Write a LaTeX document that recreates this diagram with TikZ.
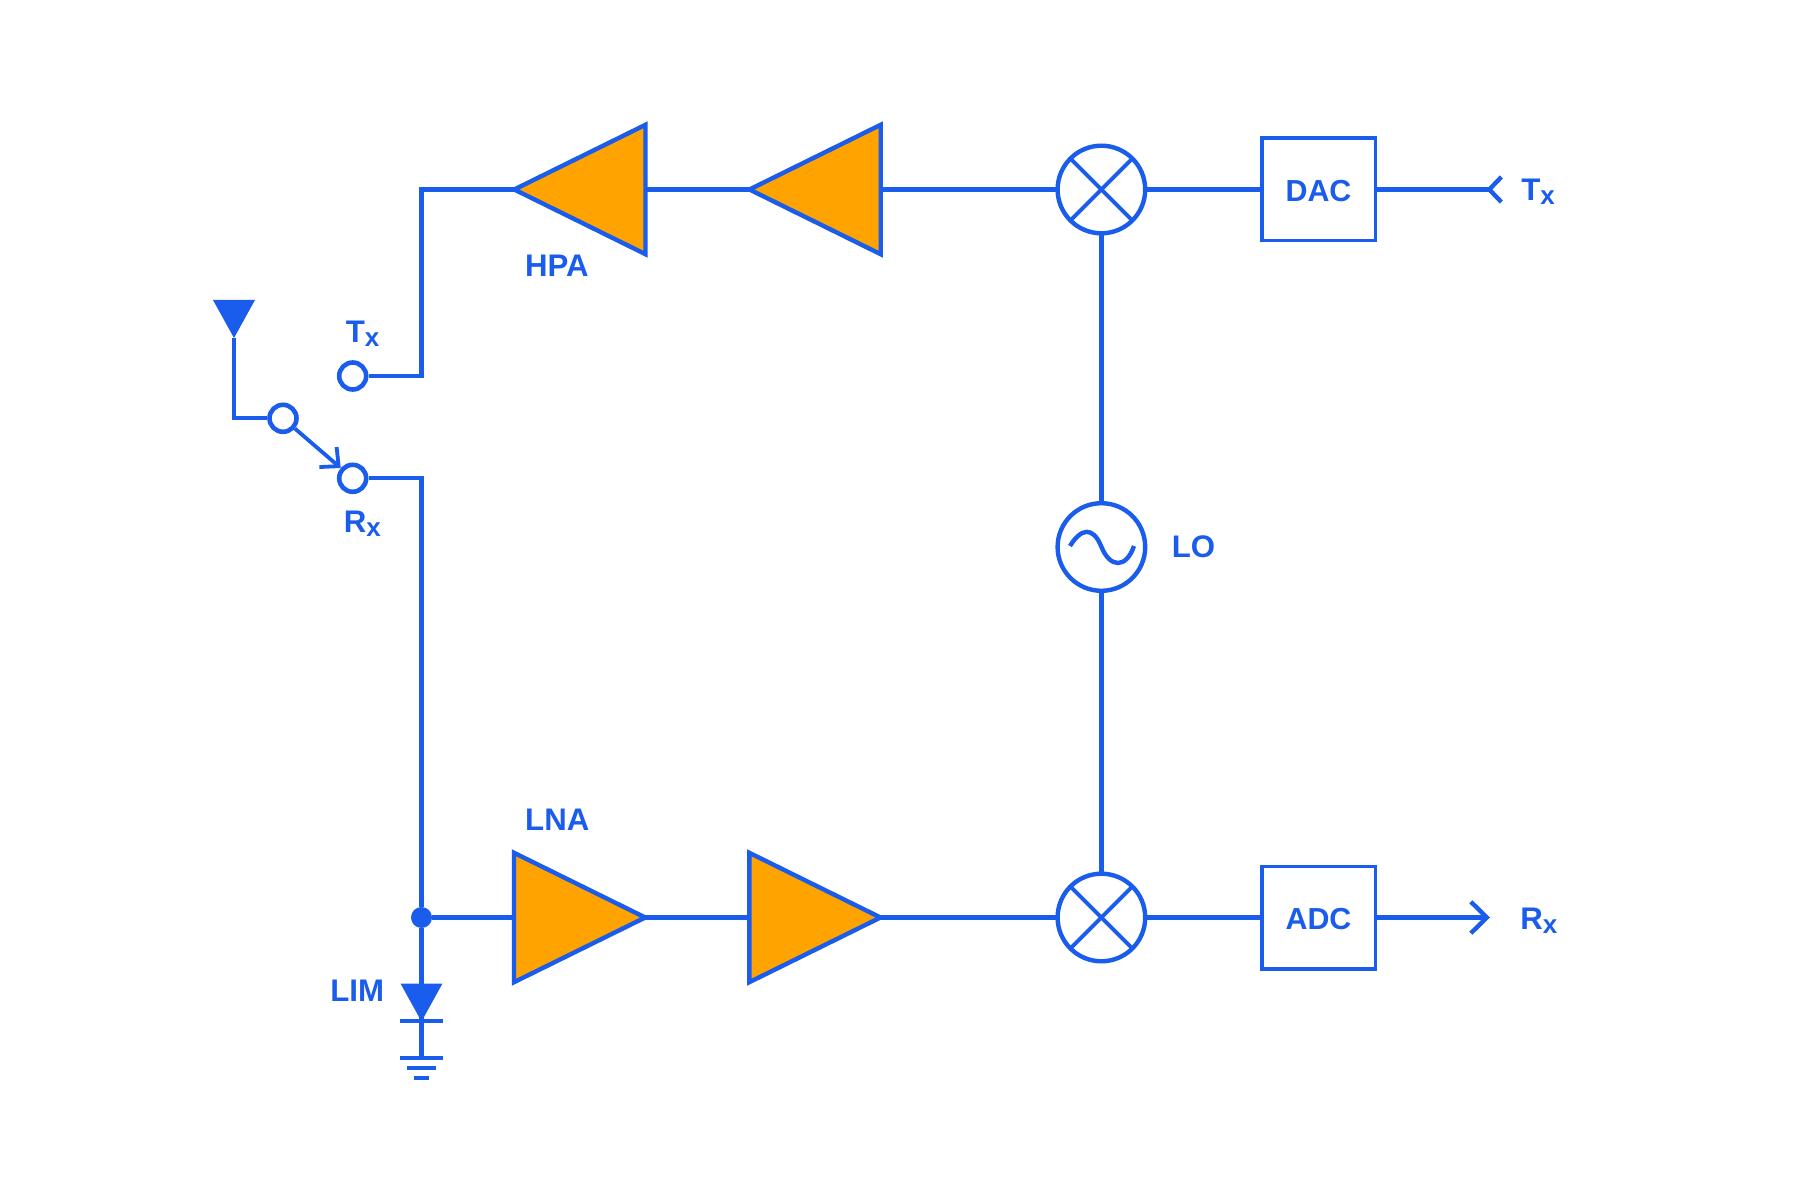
\documentclass[tikz,border=0pt]{standalone}
\usepackage{fontspec}
\setmainfont{Liberation Sans}
\usetikzlibrary{arrows.meta, shapes.geometric}

\definecolor{wireblue}{HTML}{1A5CEC}
\definecolor{ampfill}{HTML}{FFA300}
\newcommand{\subx}{\raisebox{-2pt}{\fontsize{13}{12}\selectfont x}}

\tikzset{
  wire/.style={draw=wireblue, line width=2.2pt},
  amp/.style={isosceles triangle, isosceles triangle stretches, draw=wireblue, fill=ampfill,
    line width=2.2pt, inner sep=0pt, outer sep=0pt, minimum width=64.7pt, minimum height=65.6pt, anchor=lower side},
  tip/.style={isosceles triangle, isosceles triangle stretches, fill=wireblue, shape border rotate=270,
    inner sep=0pt, outer sep=0pt, minimum width=21pt, minimum height=19pt},
  ring/.style={circle, draw=wireblue, line width=2.3pt, inner sep=0pt, minimum size=13.5pt},
  mixer/.style={circle, draw=wireblue, line width=2.2pt, inner sep=0pt, outer sep=0pt, minimum size=43.8pt,
    path picture={
      \draw[wireblue, line width=2pt] (path picture bounding box.north west) -- (path picture bounding box.south east);
      \draw[wireblue, line width=2pt] (path picture bounding box.south west) -- (path picture bounding box.north east);
    }},
  osc/.style={circle, draw=wireblue, line width=2.2pt, inner sep=0pt, outer sep=0pt, minimum size=43.8pt},
  conv/.style={rectangle, draw=wireblue, line width=1.7pt, inner sep=0pt, outer sep=0pt,
    minimum width=56.7pt, minimum height=51.3pt, text=wireblue, text height=11.8pt, text depth=0pt,
    font=\fontsize{15.2}{18}\selectfont\bfseries},
  lab/.style={anchor=base west, inner sep=0pt, text=wireblue, font=\fontsize{15.6}{18}\selectfont\bfseries}
}

\begin{document}
\begin{tikzpicture}[x=0.5pt, y=-0.5pt]
    \useasboundingbox (0,0) rectangle (1801,1203);

    % Antenna and switch
    \node[tip, anchor=apex] (ant) at (234,338) {};
    \node[ring] (sw) at (283,418.3) {};
    \node[ring] (txpin) at (352.7,376) {};
    \node[ring] (rxpin) at (352.7,478.3) {};
    \coordinate (txbend) at (421.5,189.5);
    \node[circle, fill=wireblue, inner sep=0pt, minimum size=10.5pt] (jct) at (421.5,917.5) {};

    % Tx chain
    \node[amp, shape border rotate=180] (hpaA) at (645.5,189.5) {};
    \node[amp, shape border rotate=180] (hpaB) at (880.7,189.5) {};
    \node[mixer] (mixtx) at (1101.4,189.5) {};
    \node[conv] (dac) at (1318.5,189.5) {DAC};
    \coordinate (txout) at (1503.5,189.5);

    % Rx chain
    \node[amp] (lnaA) at (514,917.5) {};
    \node[amp] (lnaB) at (749.3,917.5) {};
    \node[mixer] (mixrx) at (1101.4,917.5) {};
    \node[conv] (adc) at (1318.5,917.5) {ADC};
    \coordinate (rxout) at (1490,917.5);

    % Local oscillator
    \node[osc] (lo) at (1101.4,547) {};
    \draw[wire] (1070,546) .. controls (1081,528) and (1093,526) .. (1101.5,547)
      .. controls (1110,568) and (1126,569) .. (1134,546);

    % Limiter
    \node[tip, anchor=apex] (lim) at (421.5,1021.5) {};

    % Connect everything
    \draw[wire] (ant.apex) |- (sw);
    \draw[wire, line width=1.9pt, -{Straight Barb[length=7pt,width=13.2pt]}] (sw) -- (rxpin);
    \draw[wire] (txpin) -| (txbend) -- (hpaA.apex);
    \draw[wire] (rxpin) -| (jct);
    \draw[wire] (jct) -- (lnaA.lower side);
    \draw[wire] (jct) -- (lim.apex);
    \draw[wire] (lim.apex) -- (421.5,1058);
    \draw[wire] (hpaA.lower side) -- (hpaB.apex);
    \draw[wire] (hpaB.lower side) -- (mixtx);
    \draw[wire] (mixtx) -- (dac);
    \draw[wire, -{Straight Barb[reversed,length=6pt,width=12.5pt]}] (dac) -- (txout);
    \draw[wire] (lnaA.apex) -- (lnaB.lower side);
    \draw[wire] (lnaB.apex) -- (mixrx);
    \draw[wire] (mixrx) -- (adc);
    \draw[wire, -{Straight Barb[length=8pt,width=15.7pt]}] (adc) -- (rxout);
    \draw[wire] (mixtx) -- (lo);
    \draw[wire] (lo) -- (mixrx);

    % Capacitor and ground bars
    \foreach \y/\w in {1021/21.7, 1058/21.7, 1068/14.7, 1078/7.5} {
      \draw[wire] (421.5-\w,\y) -- (421.5+\w,\y);
    }

    % Labels
    \foreach \n/\x/\y/\t in {tlTx/345.5/342.7/T\subx, tlRx/343.5/532.3/R\subx, tlHpa/524.8/276.7/HPA, tlLna/524.8/830.7/LNA, tlLim/330/1001.3/LIM, tlLo/1171.5/557.7/LO, tlTxo/1521/200.7/T\subx, tlRxo/1520/929/R\subx} {
      \node[lab] (\n) at (\x,\y) {\t};
    }
\end{tikzpicture}
\end{document}
